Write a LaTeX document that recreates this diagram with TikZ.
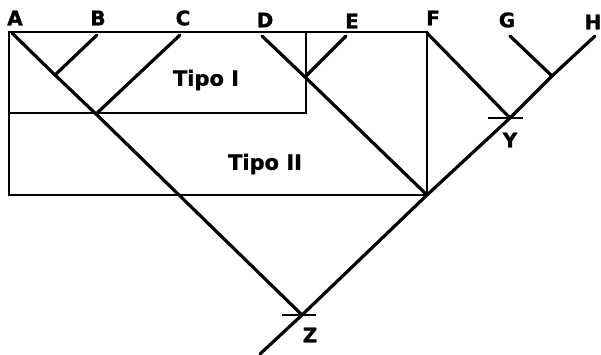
\documentclass[tikz,border=0pt]{standalone}
\usepackage{fontspec}
\setmainfont{DejaVu Sans}
\newfontfamily\heavyfont{DejaVu Sans Bold}[FakeBold=1.2]
\usepackage{tikz}

\begin{document}
\begin{tikzpicture}[x=1pt, y=-1pt,
    branch/.style={line width=3.2pt, line cap=round},
    frame/.style={line width=1.6pt},
    bar/.style={line width=2.6pt},
    taxon/.style={font=\heavyfont\fontsize{20}{21}\selectfont, inner sep=0pt},
    tipo/.style={font=\heavyfont\fontsize{21}{22}\selectfont, inner sep=0pt}
]
    \useasboundingbox (0,0) rectangle (601,355);

    % tips and branching points
    \coordinate (tA) at (12,33);
    \coordinate (tB) at (97,35);
    \coordinate (tC) at (180,35);
    \coordinate (tD) at (262,36);
    \coordinate (tE) at (346,36);
    \coordinate (tF) at (427,33);
    \coordinate (tG) at (510,36);
    \coordinate (tH) at (595,36);
    \coordinate (nAB) at (55,75);
    \coordinate (nABC) at (96,114);
    \coordinate (nDE) at (305,77);
    \coordinate (nDF) at (427,195);
    \coordinate (nGH) at (552,76);
    \coordinate (Y) at (510,118);
    \coordinate (Z) at (302,315);
    \coordinate (root) at (260,354);

    \draw[frame] (9,32) rectangle (306,113);
    \draw[frame] (9,32) rectangle (427,195);

    \draw[branch] (tA) -- (nAB) -- (nABC) -- (Z);
    \draw[branch] (root) -- (Z) -- (nDF) -- (Y) -- (nGH) -- (tH);
    \draw[branch] (tB) -- (nAB);
    \draw[branch] (tC) -- (nABC);
    \draw[branch] (tD) -- (nDE) -- (nDF);
    \draw[branch] (tE) -- (nDE);
    \draw[branch] (tF) -- (Y);
    \draw[branch] (tG) -- (nGH);

    \draw[bar] ([xshift=-20pt]Z) -- ([xshift=14pt]Z);
    \draw[bar] ([xshift=-22pt]Y) -- ([xshift=13pt]Y);

    \node[taxon] (lA) at (15,18) {A};
    \node[taxon] (lB) at (98,18) {B};
    \node[taxon] (lC) at (183,18) {C};
    \node[taxon] (lD) at (265,20) {D};
    \node[taxon] (lE) at (352,21) {E};
    \node[taxon] (lF) at (433,18) {F};
    \node[taxon] (lG) at (507,20) {G};
    \node[taxon] (lH) at (593,22) {H};
    \node[taxon] (lY) at (510,140) {Y};
    \node[taxon] (lZ) at (310,335) {Z};

    \node[tipo] (tipoI) at (206,80) {Tipo I};
    \node[tipo] (tipoII) at (265,164) {Tipo II};
\end{tikzpicture}
\end{document}
